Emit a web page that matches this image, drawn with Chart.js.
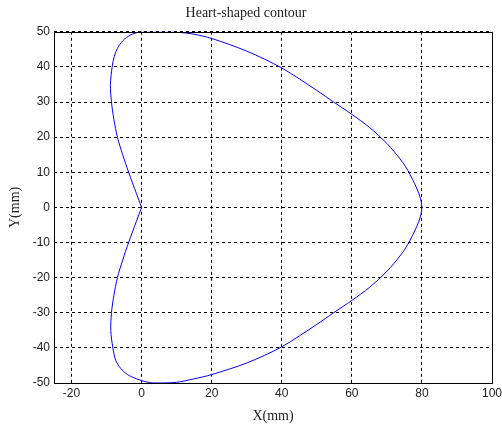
<!DOCTYPE html>
<html>
<head>
<meta charset="utf-8">
<script src="https://cdn.jsdelivr.net/npm/chart.js@4"></script>
<style>
  html, body { margin: 0; padding: 0; background: #fff; }
  #wrap { width: 502px; height: 428px; }
</style>
</head>
<body>
<div id="wrap"><canvas id="chart" width="502" height="428"></canvas></div>
<script>
// contour, going round from the cusp at the origin
var xValues = [0, -1.5, -3.7, -5.4, -6.9, -7.9, -8.6, -8.9, -8.4, -7.8, -6.6, -4.8, -2.5, 0, 5, 10, 15, 20, 30, 40, 50, 54.8, 60, 65, 70, 74, 76, 78.5, 79.6, 80,
               79.6, 78.5, 76, 74, 70, 65, 60, 54.8, 50, 40, 30, 20, 15, 10, 3.5, 1, -1.5, -4, -6, -7.4, -8.2, -8.8, -8.6, -7.9, -6.9, -5.4, -3.7, -1.5, 0];
var yValues = [0, 4, 10, 15, 20, 25, 30, 35, 40, 43, 45.8, 48, 49.4, 50, 50, 49.9, 49.3, 48.1, 44.5, 39.7, 33.3, 30, 26.5, 22.8, 18.2, 13.5, 10.5, 5.5, 2.5, 0,
               -2.5, -5.5, -10.5, -13.5, -18.2, -22.8, -26.5, -30, -33.3, -39.7, -44.3, -47.6, -48.8, -49.8, -50, -49.6, -48.8, -47.6, -45.8, -43.5, -40, -35, -30, -25, -20, -15, -10, -4, 0];
var xTicks = [-20, 0, 20, 40, 60, 80, 100];
var yTicks = [-50, -40, -30, -20, -10, 0, 10, 20, 30, 40, 50];

var points = xValues.map(function (x, i) { return { x: x, y: yValues[i] }; });

var frame = {
    id: 'frame',
    afterDraw: function (chart) {
        var a = chart.chartArea, c = chart.ctx;
        c.save();
        c.strokeStyle = '#000';
        c.lineWidth = 1;
        c.strokeRect(Math.round(a.left) + 0.5, Math.round(a.top) + 0.5, Math.round(a.right - a.left), Math.round(a.bottom - a.top));
        c.restore();
    }
};

var grid = {
    color: '#000',
    lineWidth: 1,
    drawTicks: false
};

var ctx = document.getElementById('chart').getContext('2d');
var chart = new Chart(ctx, {
    type: 'scatter',
    data: {
        datasets: [{
            label: 'contour',
            data: points,
            showLine: true,
            borderColor: '#0000ff',
            borderWidth: 1,
            pointRadius: 0,
            tension: 0.3
        }]
    },
    options: {
        responsive: false,
        animation: false,
        layout: { padding: { left: 0, right: 10, top: 0, bottom: 0 } },
        plugins: {
            legend: { display: false },
            tooltip: { enabled: false },
            title: {
                display: true,
                text: 'Heart-shaped contour',
                color: '#222',
                font: { family: 'Liberation Serif', size: 14, weight: 'normal' },
                padding: { top: 5, bottom: 10 }
            }
        },
        scales: {
            x: {
                type: 'linear',
                min: -25,
                max: 100,
                afterBuildTicks: function (s) { s.ticks = xTicks.map(function (v) { return { value: v }; }); },
                afterFit: function (s) { s.height = 45; s.paddingRight = 0; s.paddingLeft = 0; },
                ticks: { color: '#222', padding: 3, font: { family: 'Liberation Sans', size: 12 } },
                grid: grid,
                border: { display: false, dash: [3, 3] },
                title: {
                    display: true,
                    text: 'X(mm)',
                    color: '#222',
                    font: { family: 'Liberation Serif', size: 14 },
                    padding: { top: 1, bottom: 3.5 }
                }
            },
            y: {
                type: 'linear',
                min: -50,
                max: 50,
                afterBuildTicks: function (s) { s.ticks = yTicks.map(function (v) { return { value: v }; }); },
                afterFit: function (s) { s.width = 54; },
                ticks: { color: '#222', padding: 4, font: { family: 'Liberation Sans', size: 12 } },
                grid: grid,
                border: { display: false, dash: [3, 3] },
                title: {
                    display: true,
                    text: 'Y(mm)',
                    color: '#222',
                    font: { family: 'Liberation Serif', size: 14 },
                    padding: { top: 7, bottom: 0 }
                }
            }
        }
    },
    plugins: [frame]
});
</script>
</body>
</html>
